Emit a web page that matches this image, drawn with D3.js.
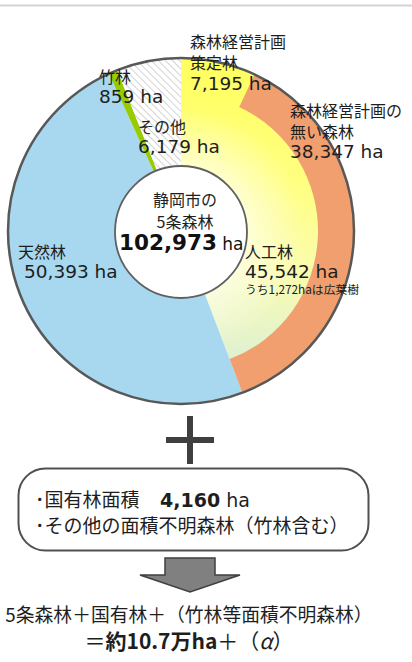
<!DOCTYPE html>
<html>
<head>
<meta charset="utf-8">
<script src="https://cdn.jsdelivr.net/npm/d3@7"></script>
<style>
  body { margin: 0; background: #fff; }
  svg { display: block; }
</style>
</head>
<body>
<div id="chart"></div>
<script>
// data
const forestTypes = ["人工林", "天然林", "竹林", "その他"];
const forestArea = [45542, 50393, 859, 6179];
const planTypes = ["森林経営計画策定林", "森林経営計画の無い森林"];
const planArea = [7195, 38347];
const totalArea = 102973;
const nationalArea = 4160;

const W = 412, H = 662;
const cx = 181, cy = 231;
const rOuter = 173, rHole = 66, rRing = 137;

const colors = {
  "人工林": "url(#yellowGrad)",
  "天然林": "#a7d8ef",
  "竹林": "#99cc00",
  "その他": "url(#hatch)"
};

const svg = d3.select("#chart").append("svg")
  .attr("width", W)
  .attr("height", H);

const defs = svg.append("defs");

// yellow fades to pale green toward the bottom (coords are local to the pie group)
const lg = defs.append("linearGradient")
  .attr("id", "yellowGrad")
  .attr("gradientUnits", "userSpaceOnUse")
  .attr("x1", 0).attr("y1", -rOuter)
  .attr("x2", 0).attr("y2", rOuter);
[[0, "#ffff5e"], [0.35, "#ffff80"], [0.6, "#fbfcaa"], [0.82, "#e4f3cc"], [1, "#cde8e8"]]
  .forEach(s => lg.append("stop").attr("offset", s[0]).attr("stop-color", s[1]));

// pale glow around the centre hole
const rg = defs.append("radialGradient")
  .attr("id", "glow")
  .attr("gradientUnits", "userSpaceOnUse")
  .attr("cx", 0).attr("cy", 0).attr("r", rRing);
rg.append("stop").attr("offset", rHole / rRing).attr("stop-color", "#fff").attr("stop-opacity", 0.6);
rg.append("stop").attr("offset", 0.9).attr("stop-color", "#fff").attr("stop-opacity", 0);

const pat = defs.append("pattern")
  .attr("id", "hatch")
  .attr("patternUnits", "userSpaceOnUse")
  .attr("width", 5).attr("height", 5)
  .attr("patternTransform", "rotate(45)");
pat.append("rect").attr("width", 5).attr("height", 5).attr("fill", "#fff");
pat.append("line").attr("x1", 0).attr("y1", 0).attr("x2", 5).attr("y2", 0)
  .attr("stroke", "#c9c9c9").attr("stroke-width", 1.6);

// top rule
svg.append("line")
  .attr("x1", 0).attr("x2", W).attr("y1", 5.5).attr("y2", 5.5)
  .attr("stroke", "#d4d4d4").attr("stroke-width", 2);

const g = svg.append("g").attr("transform", `translate(${cx},${cy})`);

const pie = d3.pie().sort(null).value(d => d.v);
const arcs = pie(forestTypes.map((k, i) => ({ k, v: forestArea[i] })));

const arc = d3.arc().innerRadius(rHole).outerRadius(rOuter);

g.selectAll("path.sector")
  .data(arcs)
  .join("path")
    .attr("class", "sector")
    .attr("d", arc)
    .attr("fill", d => colors[d.data.k]);

// glow over the 人工林 sector
g.append("path")
  .attr("d", arc(arcs[0]))
  .attr("fill", "url(#glow)");

// outer ring for 森林経営計画の無い森林 inside the 人工林 sector
const angle = d3.scaleLinear().domain([0, totalArea]).range([0, 2 * Math.PI]);
const ringEnd = arcs[0].endAngle;
g.append("path")
  .attr("d", d3.arc()({
    innerRadius: rRing, outerRadius: rOuter,
    startAngle: ringEnd - angle(planArea[1]), endAngle: ringEnd
  }))
  .attr("fill", "#f19f6f");

g.append("circle").attr("r", rOuter)
  .attr("fill", "none").attr("stroke", "#585858").attr("stroke-width", 2.5);
g.append("circle").attr("r", rHole).attr("cy", 1)
  .attr("fill", "#fff").attr("stroke", "#606060").attr("stroke-width", 1.8);

// labels
const jp = "'Noto Sans CJK JP', sans-serif";
const num = "'DejaVu Sans', 'Noto Sans CJK JP', sans-serif";
const fmt = d3.format(",");

function label(x, lines) {
  const t = svg.append("text").attr("fill", "#1e1e1e");
  lines.forEach(l => {
    t.append("tspan")
      .attr("x", x + (l.dx || 0)).attr("y", l.y)
      .attr("font-family", l.n ? num : jp)
      .attr("font-size", l.s || (l.n ? 18.5 : 16))
      .text(l.t);
  });
}

label(190, [
  { t: "森林経営計画", y: 48 },
  { t: "策定林", y: 69 },
  { t: fmt(planArea[0]) + " ha", y: 90, n: 1 }
]);
label(99, [
  { t: forestTypes[2], y: 83 },
  { t: fmt(forestArea[2]) + " ha", y: 103, n: 1 }
]);
label(138, [
  { t: forestTypes[3], y: 133 },
  { t: fmt(forestArea[3]) + " ha", y: 153, n: 1 }
]);
label(290, [
  { t: "森林経営計画の", y: 117 },
  { t: "無い森林", y: 138 },
  { t: fmt(planArea[1]) + " ha", y: 158, n: 1 }
]);
label(18, [
  { t: forestTypes[1], y: 258 },
  { t: fmt(forestArea[1]) + " ha", y: 278, n: 1, dx: 6 }
]);
label(245, [
  { t: forestTypes[0], y: 258 },
  { t: fmt(forestArea[0]) + " ha", y: 278, n: 1 },
  { t: "うち1,272haは広葉樹", y: 294, s: 11.8 }
]);

// centre
svg.append("text").attr("x", 185).attr("y", 206)
  .attr("text-anchor", "middle").attr("font-family", jp).attr("font-size", 16)
  .attr("fill", "#1e1e1e").text("静岡市の");
svg.append("text").attr("x", 185).attr("y", 228)
  .attr("text-anchor", "middle").attr("font-family", jp).attr("font-size", 16)
  .attr("fill", "#1e1e1e").text("5条森林");
const tot = svg.append("text").attr("x", 119).attr("y", 250)
  .attr("font-family", num).attr("fill", "#111");
tot.append("tspan").attr("font-size", 21.5).attr("font-weight", "bold").text(fmt(totalArea));
tot.append("tspan").attr("font-size", 17).text(" ha");

// plus sign
const plus = svg.append("g").attr("fill", "#3f3f3f");
plus.append("rect").attr("x", 187).attr("y", 416).attr("width", 6).attr("height", 48);
plus.append("rect").attr("x", 166).attr("y", 437).attr("width", 48).attr("height", 6);

// rounded box
svg.append("rect")
  .attr("x", 18.5).attr("y", 468.5).attr("width", 350).attr("height", 82).attr("rx", 27)
  .attr("fill", "#fff").attr("stroke", "#505050").attr("stroke-width", 2);

const b1 = svg.append("text").attr("x", 35).attr("y", 507)
  .attr("font-family", jp).attr("font-size", 19).attr("fill", "#1e1e1e");
b1.append("tspan").text("･国有林面積");
b1.append("tspan").attr("x", 160).attr("font-family", num).attr("font-size", 19)
  .attr("font-weight", "bold").text(fmt(nationalArea));
b1.append("tspan").attr("font-family", num).attr("font-size", 19).text(" ha");
svg.append("text").attr("x", 35).attr("y", 533)
  .attr("font-family", jp).attr("font-size", 19).attr("fill", "#1e1e1e")
  .text("･その他の面積不明森林（竹林含む）");

// arrow
svg.append("path")
  .attr("d", d3.line()([[165, 558], [215, 558], [215, 575], [240, 575], [190, 592], [140, 575], [165, 575]]) + "Z")
  .attr("fill", "#808080").attr("stroke", "#3f3f3f").attr("stroke-width", 1.5);

// result
svg.append("text").attr("x", 189).attr("y", 622)
  .attr("text-anchor", "middle").attr("font-family", jp).attr("font-size", 18.8)
  .attr("fill", "#1e1e1e").text("5条森林＋国有林＋（竹林等面積不明森林）");
const r2 = svg.append("text").attr("x", 189).attr("y", 649)
  .attr("text-anchor", "middle").attr("font-family", jp).attr("font-size", 21)
  .attr("fill", "#1e1e1e");
r2.append("tspan").text("＝");
r2.append("tspan").attr("font-weight", "bold").text("約10.7万ha");
r2.append("tspan").text("＋（");
r2.append("tspan").attr("font-style", "italic").text("α");
r2.append("tspan").text("）");
</script>
</body>
</html>
